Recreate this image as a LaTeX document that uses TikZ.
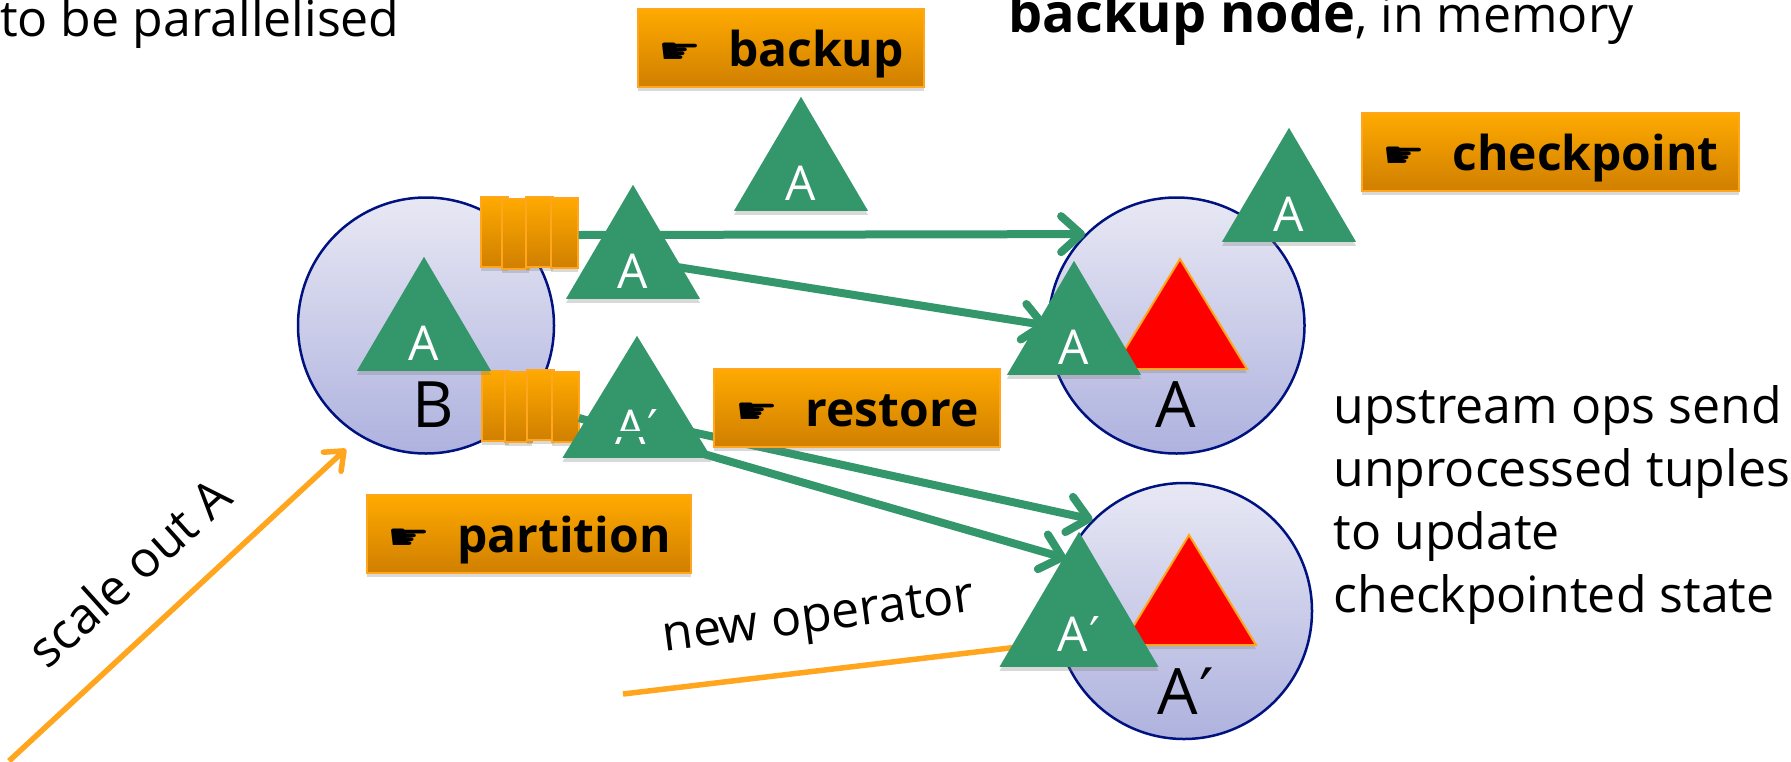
\documentclass[tikz,border=0pt]{standalone}
\usepackage{fontspec}
\usepackage{graphicx}
\setmainfont{Open Sans}
\newfontfamily\handfont{DejaVu Sans}
\usetikzlibrary{shapes.geometric, shadows, arrows.meta}
\definecolor{opgreen}{HTML}{34966B}
\definecolor{tagtop}{HTML}{FFAA00}
\definecolor{tagbot}{HTML}{D07F00}
\definecolor{tagline}{HTML}{FFA51E}
\definecolor{hosttop}{HTML}{E8E8F4}
\definecolor{hostbot}{HTML}{AEB2DE}
\definecolor{hostline}{HTML}{00127F}
\newcommand{\hand}{\raisebox{3pt}{\scalebox{1}[0.75]{\handfont\char"261B}}\hspace{27pt}}
\newcommand{\primed}{A\kern1pt{\handfont\char"2032}}
\begin{document}
\begin{tikzpicture}[x = 1pt, y = -1pt,
    softshadow/.style = {drop shadow = {opacity = 0.3, shadow xshift = 0pt, shadow yshift = -4pt}},
    host/.style = {circle, draw = hostline, line width = 2.5pt, top color = hosttop, bottom color = hostbot,
        minimum size = 256pt, inner sep = 0pt},
    hostname/.style = {font = \fontsize{64}{64}\selectfont},
    optri/.style = {isosceles triangle, shape border rotate = 90, isosceles triangle stretches, fill = opgreen,
        minimum width = 134pt, minimum height = 114pt, inner sep = 0pt, anchor = lower side, softshadow},
    statetri/.style = {optri, fill = red, draw = tagline, line width = 2pt, minimum height = 110pt},
    optext/.style = {text = white, font = \fontsize{48}{48}\selectfont},
    tag/.style = {rectangle, draw = tagline, line width = 2pt, top color = tagtop, bottom color = tagbot,
        minimum height = 78pt, inner ysep = 0pt, text height = 45pt, text depth = 8pt, softshadow,
        font = \fontsize{48}{48}\selectfont\bfseries},
    queuebox/.style = {rectangle, draw = tagline, line width = 2pt, top color = tagtop, bottom color = tagbot,
        minimum width = 27pt, minimum height = 70pt, inner sep = 0pt, softshadow},
    flow/.style = {draw = opgreen, line width = 8pt, -{Straight Barb[length = 20pt, width = 36pt, round]}},
    scaleline/.style = {draw = tagline, line width = 5.5pt},
    body/.style = {font = \fontsize{50}{63}\selectfont, align = left}]
    \useasboundingbox (0,0) rectangle (1791,761);

    \node[host] (hostb) at (426,325.5) {};
    \node[host] (hosta) at (1176.5,325.5) {};
    \node[host] (hostn) at (1184,611) {};
    \node[hostname] (nameb) at (433,405) {B};
    \node[hostname] (namea) at (1176,405) {A};
    \node[hostname] (namen) at (1186,691) {\primed};

    \node[body, anchor = west, inner xsep = 0pt] (texttl) at (0,24) {to be parallelised};
    \node[body, anchor = west] (texttr) at (1005,18) {{\fontsize{54}{63}\selectfont\textbf{backup node}}, in memory};
    \node[body, anchor = north west] (textbr) at (1330,382) {upstream ops send\\unprocessed tuples\\to update\\checkpointed state};

    \foreach \name/\x/\y in {qa1/494/232, qa2/515/233.5, qa3/539/231.5, qa4/564/233} {
        \node[queuebox] (\name) at (\x,\y) {};
    }
    \foreach \name/\x/\y in {qb1/495/406, qb2/518/407, qb3/540/405, qb4/565/407} {
        \node[queuebox] (\name) at (\x,\y) {};
    }
    \coordinate (qbout) at (579,418);
    \coordinate (oldop) at (633,260);
    \coordinate (movedop) at (637,420);

    \draw[flow] (qa4.east |- 0,235) -- (hosta.135);
    \draw[flow] (oldop) -- (hosta.west);
    \draw[flow] (movedop) -- (hostn.135);
    \draw[flow] (qbout) -- (hostn.156);

    \node[statetri] (statea) at (1180,370) {};
    \node[statetri] (staten) at (1189,646) {};
    \foreach \name/\x/\y in {tribackup/801/211, triout/633/299, triin/424/371, tricheck/1289/242, tria/1074/375} {
        \node[optri] (\name) at (\x,\y) {};
        \node[optext] (\name text) at (\x,\y-28) {A};
    }
    \node[optri, minimum width = 149pt, minimum height = 122pt] (trimoved) at (637,458) {};
    \node[optext] (trimoved text) at (637,427) {\primed};
    \fill[opgreen] (610,431) rectangle (675,437);
    \coordinate (newstart) at (623,694);
    \coordinate (newend) at (1060,642);
    \draw[scaleline] (newstart) -- (newend);
    \node[optri, minimum width = 159pt, minimum height = 135pt] (trinew) at (1079,667) {};
    \node[optext] (trinew text) at (1079,634) {\primed};

    \node[tag, minimum width = 286pt] (tagbackup) at (781,47.5) {\hand backup};
    \node[tag, minimum width = 377pt] (tagcheck) at (1550.5,151.5) {\hand checkpoint};
    \node[tag, minimum width = 286pt] (tagrestore) at (857,407.5) {\hand restore};
    \node[tag, minimum width = 324pt] (tagpart) at (529,533.5) {\hand partition};

    \coordinate (scalestart) at (9,761);
    \coordinate (scaletip) at (346,449);
    \draw[scaleline, -{Straight Barb[length = 16pt, width = 26pt, round]}] (scalestart) -- (scaletip);
    \node[body, rotate = 42] (textscale) at (129,572) {scale out A};
    \node[body, rotate = 7.5] (textnew) at (819,621) {new operator};
\end{tikzpicture}
\end{document}
